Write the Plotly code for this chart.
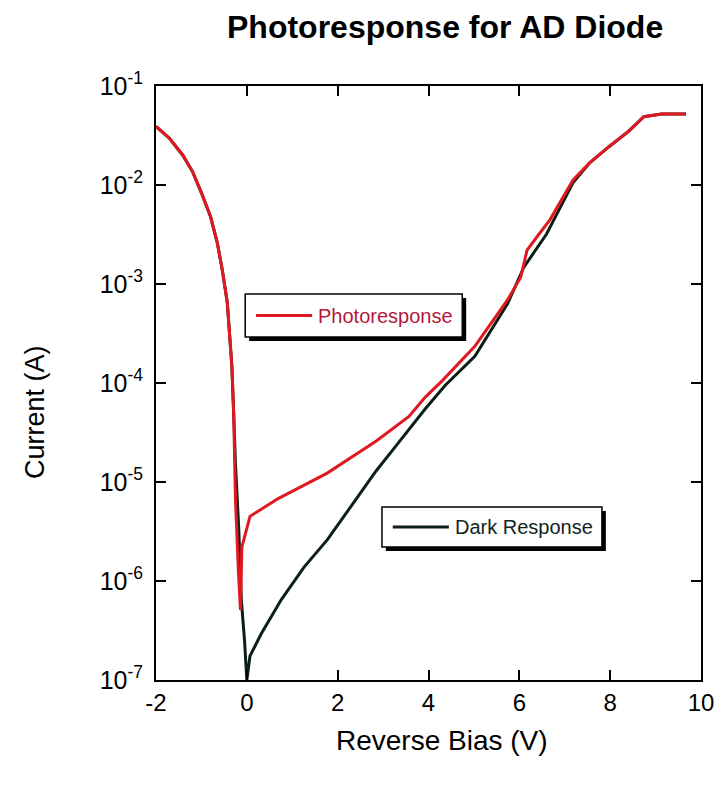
import plotly.graph_objects as go

# ---- data ----
photo_v = [-2.0, -1.70, -1.41, -1.19, -0.98, -0.80, -0.65, -0.54, -0.43, -0.38, -0.33, -0.29,
           -0.25, -0.18, -0.14, -0.11, 0.07, 0.69, 1.77, 2.85, 3.57, 3.93, 4.30, 5.02, 5.45,
           5.74, 6.03, 6.17, 6.39, 6.68, 7.18, 7.54, 7.98, 8.41, 8.74, 9.13, 9.67]
photo_i = [3.9e-2, 2.95e-2, 2.0e-2, 1.35e-2, 7.9e-3, 4.8e-3, 2.6e-3, 1.38e-3, 6.5e-4, 3.2e-4, 1.48e-4, 5.0e-5,
           6.6e-6, 1.1e-6, 5.1e-7, 2.2e-6, 4.5e-6, 6.8e-6, 1.23e-5, 2.6e-5, 4.6e-5, 7.2e-5, 1.05e-4, 2.35e-4, 4.4e-4,
           6.9e-4, 1.17e-3, 2.2e-3, 3.0e-3, 4.5e-3, 1.12e-2, 1.66e-2, 2.45e-2, 3.5e-2, 4.9e-2, 5.2e-2, 5.2e-2]

dark_v = [-2.0, -1.70, -1.41, -1.19, -0.98, -0.80, -0.65, -0.54, -0.43, -0.38, -0.33, -0.29,
          -0.25, -0.18, -0.12, -0.05, 0.0, 0.07, 0.32, 0.76, 1.26, 1.77, 2.56, 2.85, 3.21,
          3.93, 4.37, 5.02, 5.74, 6.10, 6.60, 7.18, 7.54, 7.98, 8.41, 8.74, 9.13, 9.67]
dark_i = [3.9e-2, 2.95e-2, 2.0e-2, 1.35e-2, 7.9e-3, 4.8e-3, 2.6e-3, 1.38e-3, 6.5e-4, 3.2e-4, 1.48e-4, 5.0e-5,
          1.5e-5, 3.5e-6, 6.3e-7, 2.5e-7, 1.0e-7, 1.75e-7, 2.95e-7, 6.5e-7, 1.38e-6, 2.6e-6, 8.3e-6, 1.3e-5, 2.1e-5,
          5.5e-5, 9.5e-5, 1.86e-4, 6.3e-4, 1.48e-3, 3.2e-3, 1.05e-2, 1.66e-2, 2.45e-2, 3.5e-2, 4.9e-2, 5.2e-2, 5.2e-2]

y_tick_vals = [1e-7, 1e-6, 1e-5, 1e-4, 1e-3, 1e-2, 1e-1]
y_tick_text = ["10<sup>-7</sup>", "10<sup>-6</sup>", "10<sup>-5</sup>", "10<sup>-4</sup>",
               "10<sup>-3</sup>", "10<sup>-2</sup>", "10<sup>-1</sup>"]
x_tick_vals = [-2, 0, 2, 4, 6, 8, 10]
x_tick_text = ["-2", "0", "2", "4", "6", "8", "10"]

title_text = "Photoresponse for AD Diode"
x_title = "Reverse Bias (V)"
y_title = "Current (A)"
legend_names = ["Photoresponse", "Dark Response"]

# ---- styling ----
RED = "#e01820"
DARK = "#0c1f17"
FONT = "Liberation Sans, Arial, sans-serif"

W, H = 726, 786
L, R, T, B = 156, 16, 86, 106
PW, PH = W - L - R, H - T - B


def px(x):
    return (x - L) / PW


def py(y):
    return (H - B - y) / PH


fig = go.Figure()
fig.add_trace(go.Scatter(x=dark_v, y=dark_i, mode="lines", name=legend_names[1],
                         line=dict(color=DARK, width=3), showlegend=False))
fig.add_trace(go.Scatter(x=photo_v, y=photo_i, mode="lines", name=legend_names[0],
                         line=dict(color=RED, width=3), showlegend=False))

shapes = []
annotations = []


def legend_box(x0, y0, x1, y1, color, text, text_color):
    off = 4
    shapes.append(dict(type="rect", xref="paper", yref="paper",
                       x0=px(x0 + off), x1=px(x1 + off), y0=py(y1 + off), y1=py(y0 + off),
                       fillcolor="black", line=dict(width=0), layer="above"))
    shapes.append(dict(type="rect", xref="paper", yref="paper",
                       x0=px(x0), x1=px(x1), y0=py(y1), y1=py(y0),
                       fillcolor="white", line=dict(color="black", width=1.5), layer="above"))
    ym = (y0 + y1) / 2
    shapes.append(dict(type="line", xref="paper", yref="paper",
                       x0=px(x0 + 11), x1=px(x0 + 68), y0=py(ym), y1=py(ym),
                       line=dict(color=color, width=3), layer="above"))
    annotations.append(dict(xref="paper", yref="paper", x=px(x0 + 72), y=py(ym),
                            xanchor="left", yanchor="middle", showarrow=False,
                            text=text, font=dict(family=FONT, size=20, color=text_color)))


legend_box(246.7, 294, 467.3, 337, RED, legend_names[0], "#b4183c")
legend_box(385.7, 507, 609.3, 547, DARK, legend_names[1], "#10241c")

annotations.append(dict(xref="paper", yref="paper", x=px(450), y=py(27),
                        xanchor="center", yanchor="middle", showarrow=False,
                        text="<b>" + title_text + "</b>",
                        font=dict(family="Liberation Sans Narrow, Arial Narrow, Liberation Sans, Arial",
                                  size=32, color="black")))
annotations.append(dict(xref="paper", yref="paper", x=px(447), y=py(740),
                        xanchor="center", yanchor="middle", showarrow=False,
                        text=x_title, font=dict(family=FONT, size=28, color="black")))
annotations.append(dict(xref="paper", yref="paper", x=px(33), y=py(412),
                        xanchor="center", yanchor="middle", showarrow=False, textangle=-90,
                        text=y_title, font=dict(family=FONT, size=27, color="black")))

fig.update_layout(
    width=W, height=H,
    margin=dict(l=L, r=R, t=T, b=B),
    paper_bgcolor="white", plot_bgcolor="white",
    shapes=shapes, annotations=annotations,
    showlegend=False,
)
fig.update_xaxes(range=[-2, 10], tickvals=x_tick_vals, ticktext=x_tick_text,
                 ticks="inside", ticklen=10, tickwidth=2,
                 tickcolor="black", showline=True, linewidth=2, linecolor="black", mirror="ticks",
                 showgrid=False, zeroline=False,
                 tickfont=dict(family=FONT, size=24, color="black"))
fig.update_yaxes(type="log", range=[-7, -1], tickvals=y_tick_vals, ticktext=y_tick_text,
                 ticks="inside", ticklen=10, tickwidth=2, tickcolor="black",
                 showline=True, linewidth=2, linecolor="black", mirror="ticks",
                 showgrid=False, zeroline=False, ticklabelstandoff=6,
                 tickfont=dict(family=FONT, size=25, color="black"))

fig.write_html("out.html")
